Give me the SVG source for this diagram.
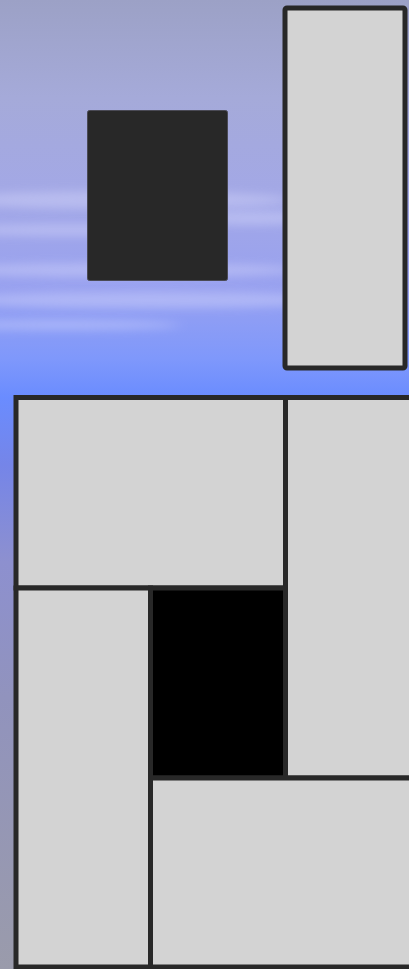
<svg xmlns="http://www.w3.org/2000/svg" width="409" height="969" viewBox="0 0 409 969">
  <defs>
    <linearGradient id="sky" x1="0" y1="0" x2="0" y2="1">
      <stop offset="0" stop-color="#9ca1c6"/>
      <stop offset="0.1" stop-color="#a5aad9"/>
      <stop offset="0.2" stop-color="#a3a8e6"/>
      <stop offset="0.3" stop-color="#98a1f0"/>
      <stop offset="0.37" stop-color="#7f98fb"/>
      <stop offset="0.41" stop-color="#6a8cff"/>
      <stop offset="0.48" stop-color="#7585e8"/>
      <stop offset="0.58" stop-color="#8d90cf"/>
      <stop offset="0.72" stop-color="#9193bd"/>
      <stop offset="1" stop-color="#9a9bab"/>
    </linearGradient>
    <filter id="soft" x="-30%" y="-300%" width="160%" height="700%">
      <feGaussianBlur stdDeviation="7 5"/>
    </filter>
    <style>
      .cell { fill: #d3d3d3; stroke: #282828; stroke-width: 5; }
      .dark { fill: #000000; stroke: #282828; stroke-width: 5; }
      .streak { fill: #e2e3ff; opacity: 0.35; filter: url(#soft); }
    </style>
  </defs>

  <rect id="background" x="0" y="0" width="409" height="969" fill="url(#sky)"/>
  <g id="clouds">
    <ellipse class="streak" cx="120" cy="200" rx="170" ry="9"/>
    <ellipse class="streak" cx="70" cy="230" rx="140" ry="6"/>
    <ellipse class="streak" cx="250" cy="218" rx="70" ry="7"/>
    <ellipse class="streak" cx="120" cy="270" rx="180" ry="7"/>
    <ellipse class="streak" cx="150" cy="300" rx="190" ry="8"/>
    <ellipse class="streak" cx="60" cy="325" rx="120" ry="5"/>
  </g>

  <g id="dark-block">
    <rect x="87.5" y="110.5" width="140" height="170" rx="2" fill="#282828" stroke="#4a4a55" stroke-width="1"/>
  </g>

  <g id="tall-block">
    <rect x="285" y="8" width="120" height="360" rx="2" class="cell" stroke-width="4.6"/>
  </g>

  <g id="grid">
    <g id="cell-top-left"><rect class="cell" x="16" y="397.5" width="269.5" height="190.5"/></g>
    <g id="cell-top-right"><rect class="cell" x="285.5" y="397.5" width="140" height="380.5"/></g>
    <g id="cell-left"><rect class="cell" x="16" y="588" width="134.5" height="379"/></g>
    <g id="cell-black"><rect class="dark" x="150.5" y="588" width="135" height="190"/></g>
    <g id="cell-bottom"><rect class="cell" x="150.5" y="778" width="275" height="189"/></g>
  </g>
</svg>
